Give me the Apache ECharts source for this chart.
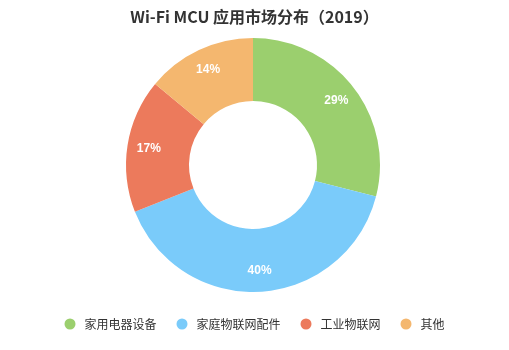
<!DOCTYPE html>
<html>
<head>
<meta charset="utf-8">
<script src="https://cdn.jsdelivr.net/npm/echarts@6/dist/echarts.min.js"></script>
<style>
  html, body { margin: 0; padding: 0; background: #fff; }
  #chart { width: 509px; height: 350px; }
</style>
</head>
<body>
<div id="chart"></div>
<script>
// Wi-Fi MCU application market share, 2019
const categories = ['家用电器设备', '家庭物联网配件', '工业物联网', '其他'];
const shares = [29, 40, 17, 14];
const colors = ['#9bcf6e', '#7acbfa', '#ec7a5c', '#f4b76f'];

const chart = echarts.init(document.getElementById('chart'), null, { renderer: 'canvas' });

const pieData = categories.map((name, i) => ({ name, value: shares[i] }));
const center = [253, 165];

chart.setOption({
  animation: false,
  color: colors,
  title: {
    text: 'Wi-Fi MCU 应用市场分布（2019）',
    left: 'center',
    top: 4,
    textStyle: {
      fontFamily: '"Noto Sans CJK SC", "Liberation Sans", sans-serif',
      fontSize: 16,
      fontWeight: 'bold',
      color: '#333333'
    }
  },
  legend: {
    data: categories,
    bottom: 15,
    left: 'center',
    icon: 'circle',
    itemWidth: 11,
    itemHeight: 11,
    itemGap: 20,
    textStyle: {
      fontFamily: '"Noto Sans CJK SC", sans-serif',
      fontSize: 12,
      color: '#333333',
      padding: [0, 0, 0, 4]
    }
  },
  series: [
    {
      // the ring itself
      type: 'pie',
      center: center,
      radius: [64, 127],
      startAngle: 90,
      clockwise: true,
      label: { show: false },
      labelLine: { show: false },
      itemStyle: { borderWidth: 0 },
      emphasis: { disabled: true },
      data: pieData
    },
    {
      // percentage labels, set slightly outside the ring's middle
      type: 'pie',
      center: center,
      radius: [64, 141],
      startAngle: 90,
      clockwise: true,
      silent: true,
      z: 3,
      itemStyle: { color: 'rgba(0,0,0,0)', borderWidth: 0 },
      label: {
        show: true,
        position: 'inside',
        formatter: '{c}%',
        color: '#ffffff',
        fontSize: 12,
        fontWeight: 'bold',
        fontFamily: '"Liberation Sans", Arial, sans-serif'
      },
      labelLine: { show: false },
      emphasis: { disabled: true },
      data: pieData
    }
  ]
});
</script>
</body>
</html>
